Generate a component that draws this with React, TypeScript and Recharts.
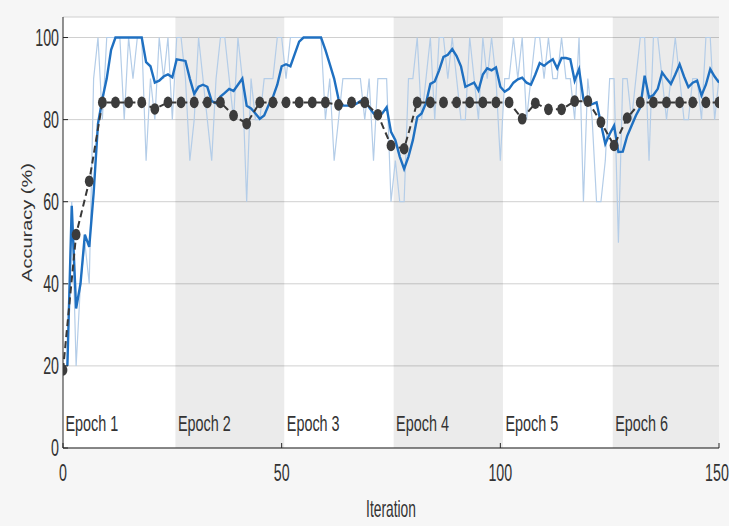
import React from "react";
import {
  LineChart,
  Line,
  XAxis,
  YAxis,
  CartesianGrid,
  ReferenceArea,
} from "recharts";

const EPOCHS = ["Epoch 1", "Epoch 2", "Epoch 3", "Epoch 4", "Epoch 5", "Epoch 6"];
const EPOCH_EDGES = [0, 25.7, 50.6, 75.6, 100.6, 125.7, 150];

// mini-batch accuracy, iterations 1..150
const RAW_ACC = [
  20, 60, 20, 40, 50, 40, 90, 100, 80, 100,
  100, 100, 100, 80, 100, 90, 100, 100, 70, 90,
  80, 100, 90, 100, 80, 100, 100, 90, 70, 80,
  100, 90, 80, 70, 90, 100, 100, 90, 80, 100,
  90, 60, 90, 80, 80, 90, 90, 90, 100, 100,
  90, 100, 100, 100, 100, 100, 100, 100, 100, 80,
  90, 70, 80, 90, 90, 90, 90, 90, 80, 90,
  70, 90, 90, 90, 60, 70, 60, 60, 90, 90,
  100, 80, 90, 100, 80, 100, 100, 90, 100, 90,
  80, 80, 100, 90, 80, 100, 90, 100, 90, 70,
  90, 90, 100, 90, 100, 80, 90, 100, 100, 90,
  100, 90, 90, 100, 90, 90, 80, 100, 60, 90,
  80, 60, 60, 70, 90, 90, 50, 90, 90, 80,
  90, 100, 100, 70, 100, 100, 90, 80, 90, 100,
  90, 80, 80, 90, 90, 80, 100, 100, 80, 90,
];

// smoothed training accuracy, iterations 1..150
const SMOOTH_ACC = [
  20, 59, 34, 40, 52, 49, 62, 79, 85, 90,
  97, 100, 100, 100, 100, 100, 100, 100, 94, 93,
  89, 89.5, 90.5, 91, 90.3, 94.7, 94.5, 94.3, 90, 86.3,
  88, 88.5, 88, 84.5, 84, 85.6, 86.5, 87.5, 87, 88.5,
  90, 83.4, 82.7, 81.5, 80.2, 81, 83.5, 85.5, 88.5, 93,
  93.5, 93, 96, 99, 100, 100, 100, 100, 100, 97,
  93.5, 90, 85, 83.4, 83.4, 83.4, 83.8, 84.5, 85, 83,
  81.5, 80.8, 81.5, 83, 77, 75, 71, 68, 71, 75,
  80.6, 81.5, 84, 88.7, 89.3, 92, 95.3, 95.8, 97.2, 95.5,
  93, 88, 88.5, 89, 87.1, 91, 92.5, 92, 92.7, 88,
  86.8, 87.5, 89, 89.8, 90.2, 89, 88.5, 91, 93.8, 93.1,
  94, 94.7, 92.5, 95, 95, 94.7, 89.5, 92.3, 85, 83.6,
  83.8, 84.2, 79, 74.1, 76.5, 78.5, 72.1, 72.2, 76, 78.5,
  81, 83, 90.7, 85.4, 86, 87.5, 91.5, 90, 88.7, 91,
  93.5, 90.5, 87.9, 89, 89.5, 85.9, 88.5, 92.3, 90.5, 89,
];

// validation accuracy, every 3 iterations from 0
const VAL_STEP = 3;
const VAL_ACC = [
  19, 52, 65, 84.2, 84.2, 84.2, 84.2, 82.6, 84.2, 84.2,
  84.2, 84.2, 84.2, 81, 79, 84.2, 84.2, 84.2, 84.2, 84.2,
  84.2, 83.6, 84.2, 84.2, 81.2, 73.7, 72.9, 84.2, 84.2, 84.2,
  84.2, 84.2, 84.2, 84.2, 84.2, 80.2, 84, 82.5, 82.5, 84.5,
  84.5, 79.4, 73.7, 80.4, 84.2, 84.2, 84.2, 84.2, 84.2, 84.2,
  84.2,
];

const Y_TICKS = [0, 20, 40, 60, 80, 100];
const X_TICKS = [0, 50, 100, 150];

const rawData = RAW_ACC.map((v, i) => ({ it: i + 1, v }));
const smoothData = SMOOTH_ACC.map((v, i) => ({ it: i + 1, v }));
const valData = VAL_ACC.map((v, i) => ({ it: i * VAL_STEP, v }));

const FONT = "'Liberation Sans', Arial, sans-serif";
const TEXT = "#333333";

const YTick = (p: any) => (
  <text
    transform={`translate(${p.x},${p.y}) scale(0.62,1)`}
    textAnchor="end"
    dy="0.36em"
    fontSize={23}
    fill={TEXT}
    fontFamily={FONT}
  >
    {p.payload.value}
  </text>
);

const XTick = (p: any) => (
  <text
    transform={`translate(${p.x},${p.y}) scale(0.62,1)`}
    textAnchor="middle"
    dy="0.71em"
    fontSize={23}
    fill={TEXT}
    fontFamily={FONT}
  >
    {p.payload.value}
  </text>
);

const EpochLabel = ({ viewBox, text }: any) => {
  if (!viewBox) return null;
  const x = viewBox.x + 2.5;
  const y = viewBox.y + viewBox.height - 17;
  return (
    <text
      transform={`translate(${x},${y}) scale(0.64,1)`}
      fontSize={22.5}
      fill={TEXT}
      fontFamily={FONT}
    >
      {text}
    </text>
  );
};

const XLabel = ({ viewBox }: any) => {
  if (!viewBox) return null;
  const x = viewBox.x + viewBox.width / 2;
  const y = viewBox.y + 69;
  return (
    <text
      transform={`translate(${x},${y}) scale(0.6,1)`}
      textAnchor="middle"
      fontSize={23}
      fill={TEXT}
      fontFamily={FONT}
    >
      Iteration
    </text>
  );
};

const YLabel = ({ viewBox }: any) => {
  if (!viewBox) return null;
  const x = viewBox.x + 31.5;
  const y = viewBox.y + viewBox.height / 2 - 10;
  return (
    <text
      transform={`translate(${x},${y}) rotate(-90) scale(1,0.72)`}
      textAnchor="middle"
      fontSize={20}
      fill={TEXT}
      fontFamily={FONT}
    >
      Accuracy (%)
    </text>
  );
};

const ValDot = (p: any) => (
  <ellipse key={`vd-${p.index}`} cx={p.cx} cy={p.cy} rx={4.4} ry={5.8} fill="#3c3c3c" />
);

export default function App() {
  return (
    <div
      style={{
        position: "absolute",
        left: 0,
        top: 0,
        width: 729,
        height: 526,
        background: "#f6f6f6",
      }}
    >
      <LineChart
        width={729}
        height={526}
        margin={{ top: 17, right: 10, bottom: 0, left: 0 }}
      >
        <CartesianGrid
          vertical={false}
          stroke="#d0d0d0"
          fill="#ffffff"
          fillOpacity={1}
        />
        {EPOCHS.map((name, i) => (
          <ReferenceArea
            key={name}
            x1={EPOCH_EDGES[i]}
            x2={EPOCH_EDGES[i + 1]}
            fill="#000000"
            fillOpacity={i % 2 === 1 ? 0.08 : 0}
            stroke="none"
            label={(props: any) => <EpochLabel {...props} text={name} />}
          />
        ))}
        <XAxis
          dataKey="it"
          type="number"
          domain={[0, 150]}
          ticks={X_TICKS}
          allowDataOverflow
          height={78}
          axisLine={{ stroke: "#262626" }}
          tickLine={{ stroke: "#262626" }}
          tickSize={-5}
          tickMargin={22}
          tick={(p: any) => <XTick {...p} />}
          label={{ content: (props: any) => <XLabel {...props} /> }}
        />
        <YAxis
          type="number"
          domain={[0, 105]}
          ticks={Y_TICKS}
          allowDataOverflow
          width={63}
          axisLine={{ stroke: "#262626" }}
          tickLine={{ stroke: "#262626" }}
          tickSize={-5}
          tickMargin={9}
          tick={(p: any) => <YTick {...p} />}
          label={{ content: (props: any) => <YLabel {...props} /> }}
        />
        <Line
          data={rawData}
          dataKey="v"
          type="linear"
          stroke="#b4cde8"
          strokeWidth={1.2}
          dot={false}
          activeDot={false}
          isAnimationActive={false}
        />
        <Line
          data={smoothData}
          dataKey="v"
          type="linear"
          stroke="#1f70c1"
          strokeWidth={2.4}
          dot={false}
          activeDot={false}
          isAnimationActive={false}
        />
        <Line
          data={valData}
          dataKey="v"
          type="linear"
          stroke="#383838"
          strokeWidth={2}
          strokeDasharray="7 4"
          dot={ValDot}
          activeDot={false}
          isAnimationActive={false}
        />
      </LineChart>
    </div>
  );
}
